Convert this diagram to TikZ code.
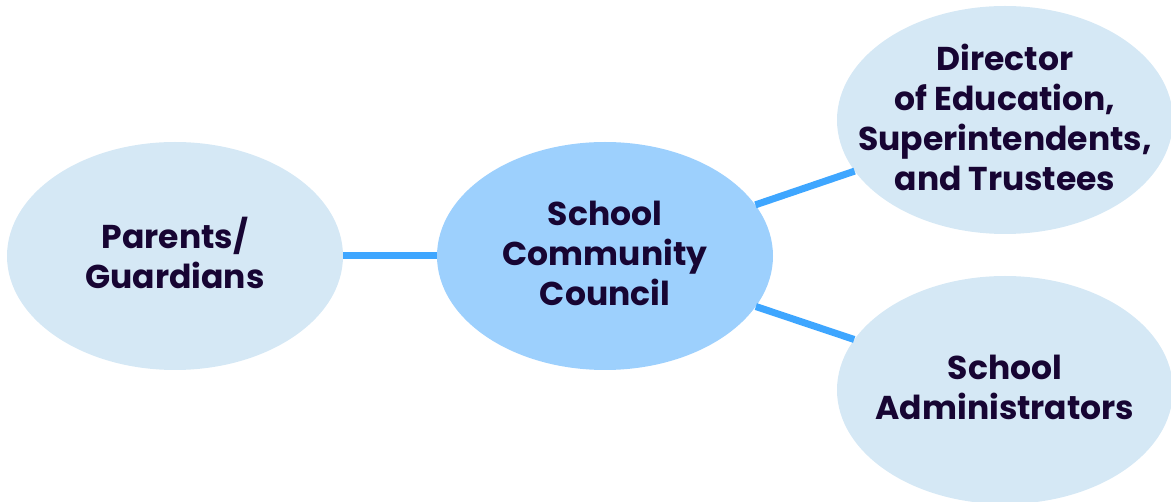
\documentclass[tikz,border=0pt]{standalone}
\usepackage{fontspec}
\setmainfont{Poppins}[BoldFont={* Bold}]
\usetikzlibrary{shapes}
\definecolor{linkblue}{HTML}{3EA6FF}
\definecolor{hubfill}{HTML}{9DD0FD}
\definecolor{leaffill}{HTML}{D5E8F5}
\definecolor{inkpurple}{HTML}{170533}
\tikzset{bubble/.style={ellipse, fill=leaffill, minimum width=336pt, minimum height=228pt, inner sep=0pt},
  bubtext/.style={text=inkpurple, align=center, inner sep=0pt, yshift=3pt, font=\bfseries\fontsize{33}{40}\selectfont}}

\begin{document}
\begin{tikzpicture}[x=1pt,y=-1pt, link/.style={linkblue, line width=7pt}]
\useasboundingbox (0,0) rectangle (1171,502);

\node[bubble, label={[bubtext]center:{Parents/\\Guardians}}] (parents) at (175,256) {};
\node[bubble, fill=hubfill, label={[bubtext]center:{School\\Community\\Council}}] (council) at (605,256) {};
\node[bubble, label={[bubtext]center:{Director\\of Education,\\Superintendents,\\and Trustees}}] (director) at (1005,120) {};
\node[bubble, label={[bubtext]center:{School\\Administrators}}] (admins) at (1005,390) {};

\draw[link] (parents) -- (council);
\draw[link] (council) -- (director);
\draw[link] (council) -- (admins);

\end{tikzpicture}
\end{document}
